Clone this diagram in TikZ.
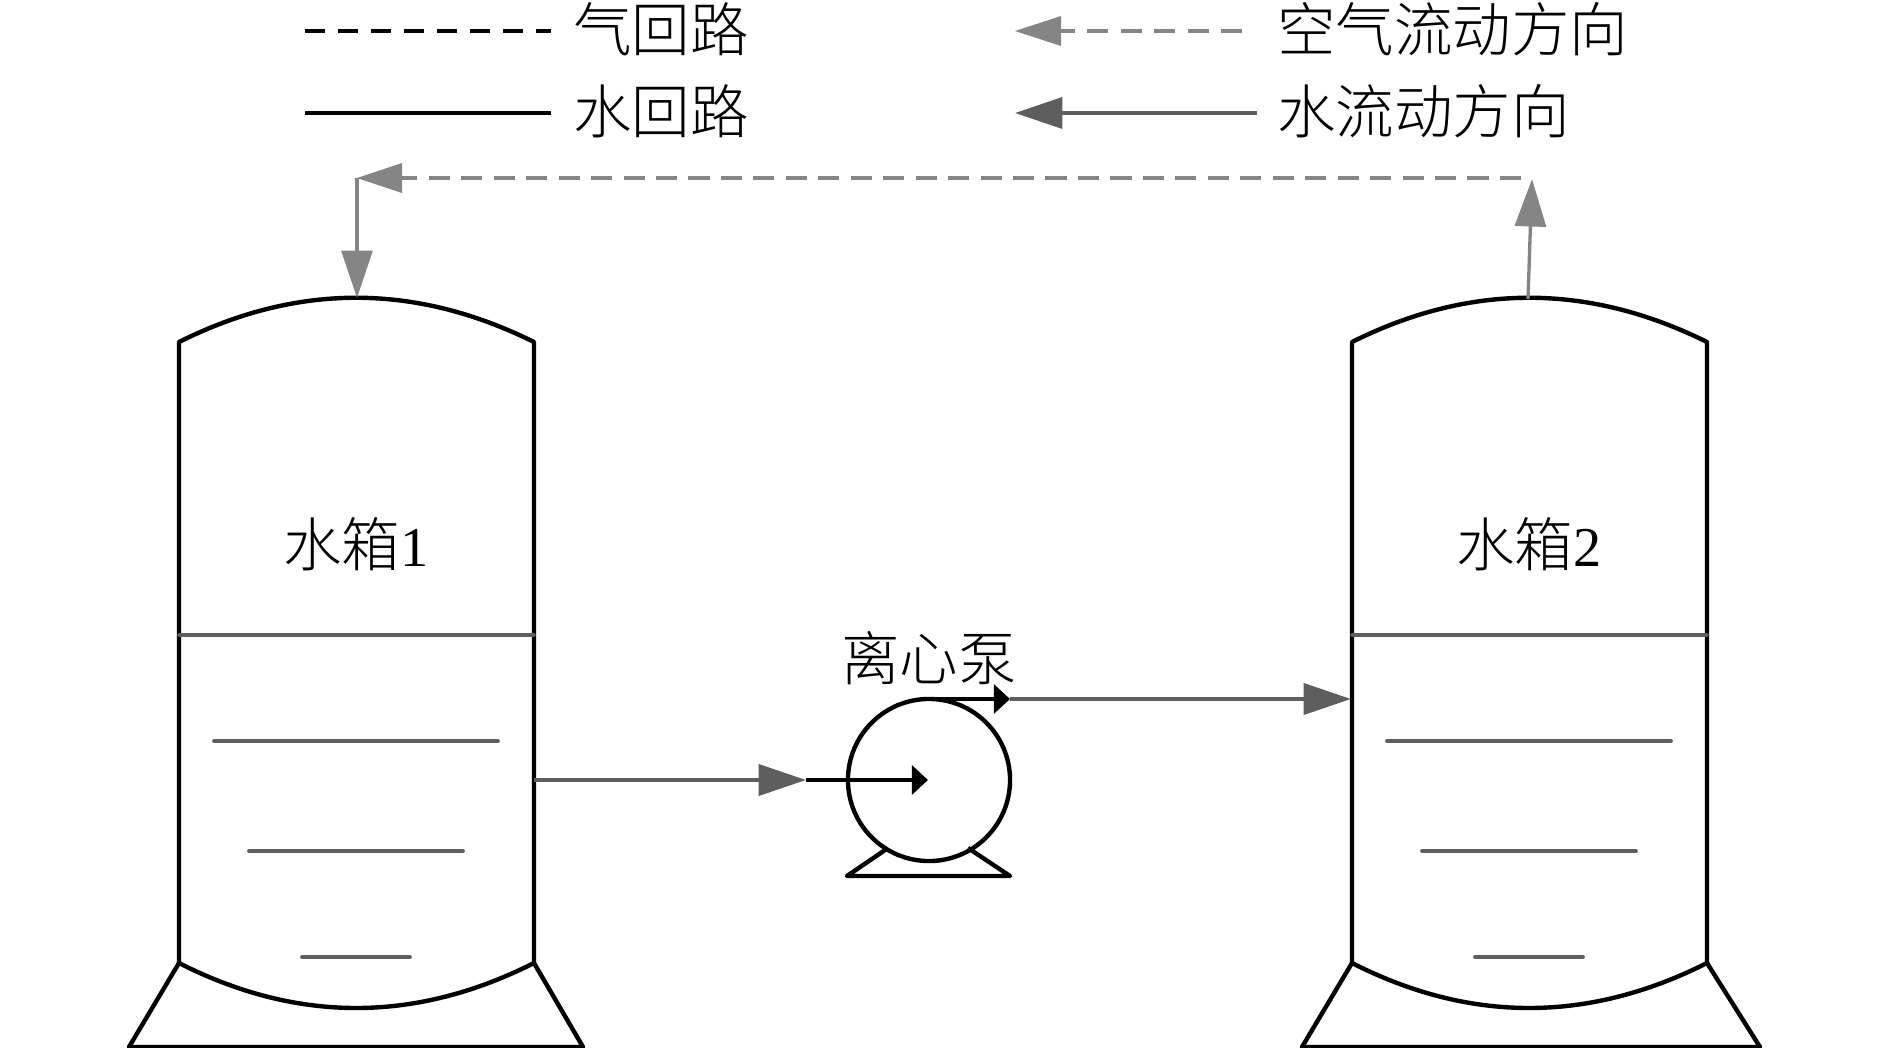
\documentclass[tikz,border=0pt]{standalone}
\usepackage{fontspec}
\setmainfont{Liberation Serif}
\newfontfamily\cjk[UprightFont={* Light},Scale=1.04]{Noto Sans CJK SC}
\usetikzlibrary{arrows.meta}

\definecolor{airgray}{HTML}{858585}
\definecolor{watergray}{HTML}{5E5E5E}

\begin{document}
\begin{tikzpicture}[
  x=0.01cm, y=-0.01cm,
  font=\fontsize{16}{16}\selectfont,
  every node/.style={inner sep=0pt, outer sep=0pt},
  vessel/.style={line width=1.25pt, line join=round},
  level/.style={watergray, line width=1.1pt, line cap=round},
  legendtext/.style={anchor=west},
  bighead/.style={-{Triangle[length=13.5pt, width=8.8pt]}},
  smallhead/.style={-{Triangle[length=4.6pt, width=8.2pt]}},
  airpipe/.style={airgray, line width=0.95pt, bighead},
  airdash/.style={airgray, line width=1.3pt, dash pattern=on 6pt off 3.23pt},
  waterpipe/.style={watergray, line width=1.2pt, bighead},
  pumppipe/.style={black, line width=1.25pt, smallhead}
]
\useasboundingbox (0,-1) rectangle (1890,1047);

% Both tanks, drawn about their centre line.
\foreach \name/\cx/\num/\foot in {tankA/356/1/227, tankB/1529/2/231} {
  \begin{scope}[shift={(\cx,0)}]
    \draw[vessel] (-177,962) -- (-177,341) .. controls (-59,282) and (59,282) .. (178,341) -- (178,962);
    \draw[vessel] (-177,962) .. controls (-59,1022) and (59,1022) .. (178,962);
    \draw[vessel] (-177,962) -- (-227,1046) -- (\foot,1046) -- (178,962);
    \draw[level, line width=1pt] (-177,634) -- (178,634);
    \draw[level] (-142,740) -- (142,740);
    \draw[level] (-107,850) -- (107,850);
    \draw[level] (-54,956) -- (54,956);
    \node (\name) at (0,543) {{\cjk 水箱}\num};
  \end{scope}
}

% Pump
\node[draw, circle, line width=1.25pt, minimum size=1.62cm] (pump) at (929,779) {};
\node (pumplabel) at (929,657) {\cjk 离心泵};
\draw[vessel] (888,847) -- (847,875) -- (1010,875) -- (968,847);

% Water circuit
\coordinate (tankAout) at (534,779);
\coordinate (pumpin) at (806,779);
\coordinate (pumpmid) at (928,779);
\coordinate (pumptop) at (929,698);
\coordinate (pumpout) at (1010,698);
\coordinate (tankBin) at (1351,698);
\draw[waterpipe] (tankAout) -- (pumpin);
\draw[pumppipe] (pumpin) -- (pumpmid);
\draw[pumppipe] (pumptop) -- (pumpout);
\draw[waterpipe] (pumpout) -- (tankBin);

% Air circuit
\coordinate (tankBtop) at (1528,298);
\coordinate (airrise) at (1532,178);
\coordinate (airstart) at (1521,177);
\coordinate (aircorner) at (357,177);
\coordinate (tankAtop) at (357,297);
\draw[airpipe] (tankBtop) -- (airrise);
\draw[airdash] (airstart) -- (390,177);
\fill[airgray] (aircorner) -- (402,162) -- (402,192) -- cycle;
\draw[airpipe] (aircorner) -- (tankAtop);

% Legend
\coordinate (keydashA) at (305,30);
\coordinate (keydashB) at (551,30);
\coordinate (keylineA) at (305,112);
\coordinate (keylineB) at (551,112);
\coordinate (keyairA) at (1242,30);
\coordinate (keyairB) at (1015,30);
\coordinate (keywaterA) at (1257,112);
\coordinate (keywaterB) at (1015,112);
\draw[black, line width=1.2pt, dash pattern=on 5.6pt off 3.8pt] (keydashA) -- (keydashB);
\draw[black, line width=1.25pt] (keylineA) -- (keylineB);
\draw[airdash, dash pattern=on 6pt off 3.5pt] (keyairA) -- (1050,30);
\fill[airgray] (keyairB) -- (1061,15) -- (1061,45) -- cycle;
\draw[waterpipe] (keywaterA) -- (keywaterB);
\node[legendtext] (keygas) at (573,28) {\cjk 气回路};
\node[legendtext] (keywater) at (573,110) {\cjk 水回路};
\node[legendtext] (keyairdir) at (1277,28) {\cjk 空气流动方向};
\node[legendtext] (keywaterdir) at (1277,110) {\cjk 水流动方向};

\end{tikzpicture}
\end{document}
